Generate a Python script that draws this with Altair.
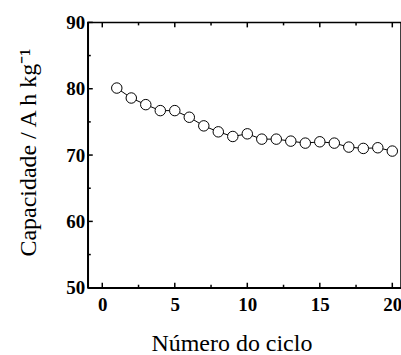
import altair as alt
import pandas as pd

ciclo = list(range(1, 21))
capacidade = [80.1, 78.6, 77.6, 76.7, 76.7, 75.7, 74.4, 73.5, 72.8, 73.2,
              72.4, 72.4, 72.1, 71.8, 72.0, 71.8, 71.2, 71.0, 71.1, 70.6]
x_major = [0, 5, 10, 15, 20]
x_minor = [2.5, 7.5, 12.5, 17.5]
y_major = [50, 60, 70, 80, 90]
y_minor = [55, 65, 75, 85]

df = pd.DataFrame({"ciclo": ciclo, "cap": capacidade})

FONT = "Liberation Serif"
W, H = 314, 266
MAJ, MIN = 5, 3

x_scale = alt.Scale(domain=[-1, 20.6], nice=False, zero=False)
y_scale = alt.Scale(domain=[50, 90], nice=False, zero=False)

x_axis = alt.Axis(
    orient="bottom", values=x_major, ticks=False, grid=False,
    domainColor="black", domainWidth=1.5,
    labelPadding=8, labelFont=FONT, labelFontSize=19, labelFontWeight="bold",
    labelColor="black",
    title="Número do ciclo", titleFont=FONT, titleFontSize=24,
    titleFontWeight="normal", titleColor="black",
    titleX=144, titleY=63, titleBaseline="alphabetic", titleAlign="center",
)
y_axis = alt.Axis(
    orient="left", values=y_major, ticks=False, grid=False,
    domainColor="black", domainWidth=1.5,
    labelPadding=3, labelFont=FONT, labelFontSize=19, labelFontWeight="bold",
    labelColor="black",
    title="Capacidade / A h kg⁻¹", titleFont=FONT, titleFontSize=24,
    titleFontWeight="normal", titleColor="black",
    titleX=-52, titleY=130, titleAngle=270, titleBaseline="alphabetic",
    titleAlign="center",
)

base = alt.Chart(df)
line = base.mark_line(color="black", strokeWidth=1).encode(
    x=alt.X("ciclo:Q", scale=x_scale, axis=x_axis),
    y=alt.Y("cap:Q", scale=y_scale, axis=y_axis),
)
pts = base.mark_point(shape="circle", size=110, filled=True, fill="white",
                      stroke="black", strokeWidth=1, opacity=1).encode(
    x=alt.X("ciclo:Q", scale=x_scale, axis=x_axis),
    y=alt.Y("cap:Q", scale=y_scale, axis=y_axis),
)


def xticks(vals, y0, y1):
    return alt.Chart(pd.DataFrame({"ciclo": vals})).mark_rule(
        color="black", strokeWidth=1.5).encode(
        x=alt.X("ciclo:Q", scale=x_scale, axis=x_axis),
        y=alt.value(y0), y2=alt.value(y1),
    )


def yticks(vals, x0, x1):
    return alt.Chart(pd.DataFrame({"cap": vals})).mark_rule(
        color="black", strokeWidth=1.5).encode(
        y=alt.Y("cap:Q", scale=y_scale, axis=y_axis),
        x=alt.value(x0), x2=alt.value(x1),
    )


tick_layers = [
    xticks(x_major, H, H - MAJ), xticks(x_minor, H, H - MIN),
    xticks(x_major, 0, MAJ), xticks(x_minor, 0, MIN),
    yticks(y_major, 0, MAJ), yticks(y_minor, 0, MIN),
]

chart = alt.layer(line, *tick_layers, pts).properties(
    width=W, height=H,
    autosize=alt.AutoSizeParams(type="none"),
    padding={"left": 88, "top": 22, "right": 0, "bottom": 67},
).configure_view(stroke="black", strokeWidth=1.5)

chart.save("out.html", embed_options={"renderer": "svg", "actions": False})
